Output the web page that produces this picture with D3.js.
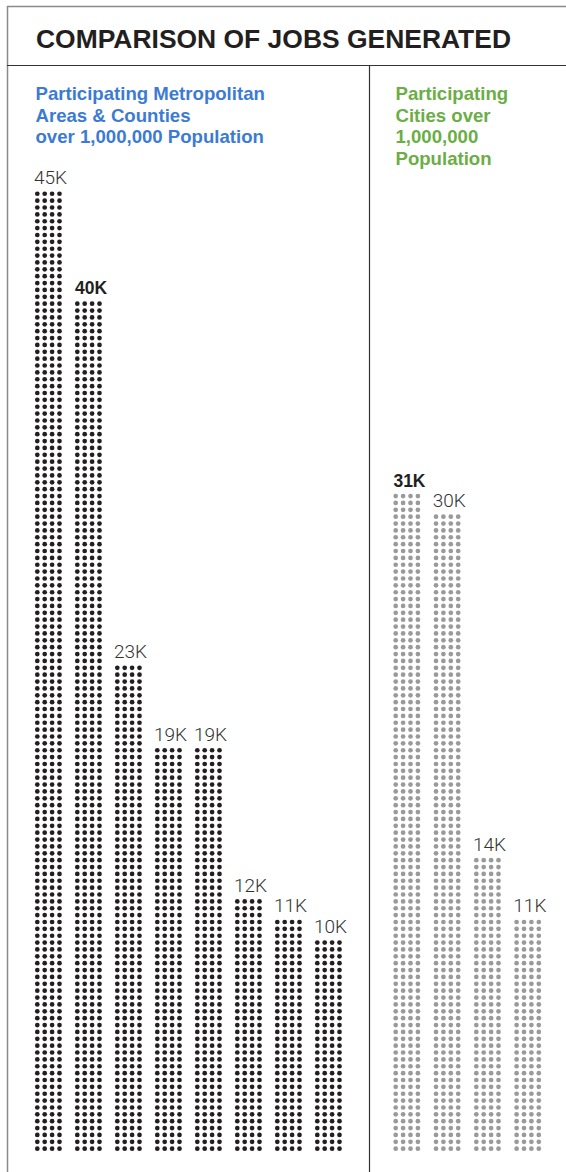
<!DOCTYPE html>
<html>
<head>
<meta charset="utf-8">
<script src="https://cdn.jsdelivr.net/npm/d3@7/dist/d3.min.js"></script>
<style>
  html, body { margin: 0; padding: 0; background: #fff; }
  svg { display: block; }
</style>
</head>
<body>
<script>
// Jobs generated, in thousands
const metroValues = [45, 40, 23, 19, 19, 12, 11, 10];
const cityValues = [31, 30, 14, 11];
const metroHighlight = [false, true, false, false, false, false, false, false];
const cityHighlight = [true, false, false, false];
const titleText = "COMPARISON OF JOBS GENERATED";
const metroHeading = ["Participating Metropolitan", "Areas & Counties", "over 1,000,000 Population"];
const cityHeading = ["Participating", "Cities over", "1,000,000", "Population"];

const W = 566, H = 1172;
const dotsPerRow = 4;
const dotGap = 7.4;       // horizontal distance between dot centres
const rowStep = 6.87;     // vertical distance between rows
const dotR = 2.35;
const rowsPerK = 3.1;
const baseY = 1148.7;     // centre of the bottom row

const svg = d3.select("body").append("svg")
  .attr("width", W).attr("height", H);

// frame
svg.append("line").attr("x1", 7.5).attr("x2", 7.5).attr("y1", 6).attr("y2", H)
  .attr("stroke", "#8a8a8a").attr("stroke-width", 1.5);
svg.append("line").attr("x1", 7).attr("x2", W).attr("y1", 6.5).attr("y2", 6.5)
  .attr("stroke", "#8a8a8a").attr("stroke-width", 1.5);
svg.append("line").attr("x1", 7).attr("x2", W).attr("y1", 65.5).attr("y2", 65.5)
  .attr("stroke", "#333").attr("stroke-width", 1.2);
svg.append("line").attr("x1", 369.5).attr("x2", 369.5).attr("y1", 65).attr("y2", H)
  .attr("stroke", "#333").attr("stroke-width", 1.2);

// title
svg.append("text")
  .attr("x", 36).attr("y", 48)
  .attr("font-family", "Liberation Sans, Arial, sans-serif")
  .attr("font-weight", 700).attr("font-size", 26)
  .attr("fill", "#231f20")
  .attr("textLength", 475).attr("lengthAdjust", "spacingAndGlyphs")
  .text(titleText);

function heading(lines, x, color) {
  const t = svg.append("text")
    .attr("font-family", "Liberation Sans, Arial, sans-serif")
    .attr("font-weight", 700).attr("font-size", 18.6)
    .attr("fill", color);
  t.selectAll("tspan").data(lines).join("tspan")
    .attr("x", x).attr("y", (d, i) => 100 + i * 21.5)
    .text(d => d);
}
heading(metroHeading, 35.5, "#3b7bd4");
heading(cityHeading, 395.5, "#6aae45");

const y = d3.scaleLinear().domain([0, 45])
  .range([baseY, baseY - 45 * rowsPerK * rowStep]);

function panel(values, highlight, x0, step, color) {
  const x = d3.scaleBand()
    .domain(d3.range(values.length))
    .range([x0, x0 + step * values.length])
    .paddingInner(0);

  const cols = svg.append("g").selectAll("g").data(values).join("g")
    .attr("transform", (d, i) => `translate(${x(i)},0)`);

  cols.each(function (v, i) {
    const rows = Math.max(1, Math.round((baseY - y(v)) / rowStep));
    const cells = [];
    for (let r = 0; r < rows; r++)
      for (let c = 0; c < dotsPerRow; c++) cells.push({ r, c });
    const g = d3.select(this);
    g.selectAll("circle").data(cells).join("circle")
      .attr("cx", d => 2.3 + d.c * dotGap)
      .attr("cy", d => baseY - d.r * rowStep)
      .attr("r", dotR)
      .attr("fill", color);
    const topY = baseY - (rows - 1) * rowStep;
    g.append("text")
      .attr("x", highlight[i] ? 0 : -1).attr("y", topY - 9.5)
      .attr("font-family", highlight[i] ? "Liberation Sans, Arial, sans-serif" : "Roboto, Liberation Sans, sans-serif")
      .attr("font-weight", highlight[i] ? 700 : 300)
      .attr("font-size", highlight[i] ? 17.5 : 19)
      .attr("fill", highlight[i] ? "#231f20" : "#333")
      .text(d3.format("d")(v) + "K");
  });
}

panel(metroValues, metroHighlight, 35, 40, "#231f20");
panel(cityValues, cityHighlight, 393.4, 40.3, "#9a9a9a");
</script>
</body>
</html>
